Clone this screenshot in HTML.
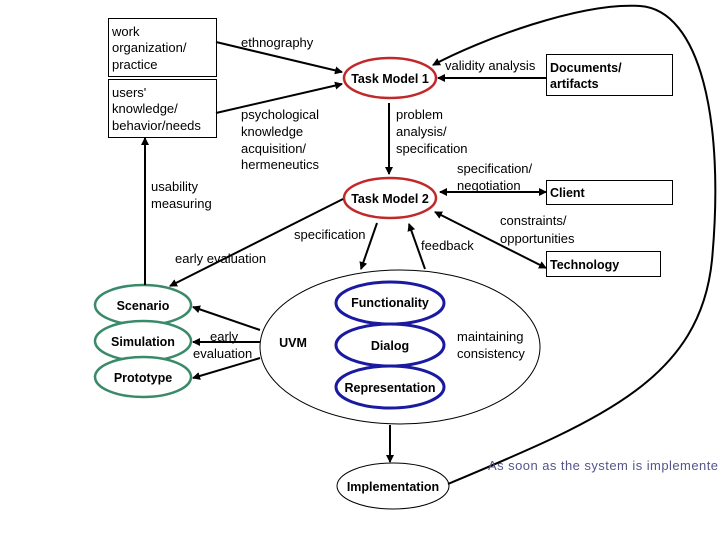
<!DOCTYPE html>
<html><head><meta charset="utf-8"><style>
body{margin:0;background:#fff;}
svg{display:block;font-family:"Liberation Sans",Arial,sans-serif;}
</style></head><body>
<svg width="720" height="540" viewBox="0 0 720 540" xmlns="http://www.w3.org/2000/svg">
<defs>
<marker id="a" markerWidth="8" markerHeight="8" refX="7" refY="4" orient="auto" markerUnits="userSpaceOnUse"><path d="M0,0 L8,4 L0,8 z" fill="#000"/></marker>
<marker id="s" markerWidth="8" markerHeight="8" refX="1" refY="4" orient="auto" markerUnits="userSpaceOnUse"><path d="M8,0 L0,4 L8,8 z" fill="#000"/></marker>
</defs>
<rect width="720" height="540" fill="#fff"/>
<g fill="none" stroke="#000" stroke-width="1">
<rect x="108.5" y="18.5" width="108" height="58"/>
<rect x="108.5" y="79.5" width="108" height="58"/>
<rect x="546.5" y="54.5" width="126" height="41"/>
<rect x="546.5" y="180.5" width="126" height="24"/>
<rect x="546.5" y="251.5" width="114" height="25"/>
<ellipse cx="400" cy="347" rx="140" ry="77"/>
<ellipse cx="393" cy="486" rx="56" ry="23"/>
</g>
<g fill="#fff" stroke="#c0282a" stroke-width="2.5">
<ellipse cx="390" cy="78" rx="46" ry="20"/>
<ellipse cx="390" cy="198" rx="46" ry="20"/>
</g>
<g fill="#fff" stroke="#1a1aa0" stroke-width="3">
<ellipse cx="390" cy="303" rx="54" ry="21"/>
<ellipse cx="390" cy="345" rx="54" ry="21"/>
<ellipse cx="390" cy="387" rx="54" ry="21"/>
</g>
<g fill="#fff" stroke="#3a8a6a" stroke-width="2.5">
<ellipse cx="143" cy="305" rx="48" ry="20"/>
<ellipse cx="143" cy="341" rx="48" ry="20"/>
<ellipse cx="143" cy="377" rx="48" ry="20"/>
</g>
<g stroke="#000" stroke-width="2" fill="none">
<line x1="216" y1="42" x2="342" y2="72" marker-end="url(#a)"/>
<line x1="216" y1="113" x2="342" y2="84" marker-end="url(#a)"/>
<line x1="389" y1="103" x2="389" y2="174" marker-end="url(#a)"/>
<line x1="546" y1="78" x2="438" y2="78" marker-end="url(#a)"/>
<line x1="440" y1="192" x2="546" y2="192" marker-start="url(#s)" marker-end="url(#a)"/>
<line x1="435" y1="212" x2="546" y2="268" marker-start="url(#s)" marker-end="url(#a)"/>
<line x1="377" y1="223" x2="361" y2="269" marker-end="url(#a)"/>
<line x1="425" y1="269" x2="409" y2="224" marker-end="url(#a)"/>
<line x1="343" y1="199" x2="170" y2="286" marker-end="url(#a)"/>
<line x1="145" y1="285" x2="145" y2="138" marker-end="url(#a)"/>
<line x1="260" y1="330" x2="193" y2="307" marker-end="url(#a)"/>
<line x1="260" y1="342" x2="193" y2="342" marker-end="url(#a)"/>
<line x1="260" y1="358" x2="193" y2="378" marker-end="url(#a)"/>
<line x1="390" y1="425" x2="390" y2="462" marker-end="url(#a)"/>
<path d="M448,484 C600,420 700,380 712,260 C725,120 700,10 640,6 C580,2 480,40 433,65" marker-end="url(#a)"/>
</g>
<g font-size="13" fill="#000">
<text x="112" y="36">work</text>
<text x="112" y="52">organization/</text>
<text x="112" y="69">practice</text>
<text x="112" y="97">users'</text>
<text x="112" y="113">knowledge/</text>
<text x="112" y="130">behavior/needs</text>
<text x="241" y="47">ethnography</text>
<text x="241" y="119">psychological</text>
<text x="241" y="136">knowledge</text>
<text x="241" y="153">acquisition/</text>
<text x="241" y="169">hermeneutics</text>
<text x="151" y="191">usability</text>
<text x="151" y="208">measuring</text>
<text x="396" y="119">problem</text>
<text x="396" y="136">analysis/</text>
<text x="396" y="153">specification</text>
<text x="457" y="173">specification/</text>
<text x="457" y="190">negotiation</text>
<text x="445" y="70">validity analysis</text>
<text x="500" y="225">constraints/</text>
<text x="500" y="243">opportunities</text>
<text x="294" y="239">specification</text>
<text x="421" y="250">feedback</text>
<text x="175" y="263">early evaluation</text>
<text x="210" y="341">early</text>
<text x="193" y="358">evaluation</text>
<text x="457" y="341">maintaining</text>
<text x="457" y="358">consistency</text>
<text x="488" y="470" fill="#55558a" textLength="230" lengthAdjust="spacing">As soon as the system is implemente</text>
</g>
<g font-size="12.5" font-weight="bold" fill="#000">
<text x="390" y="83" text-anchor="middle">Task Model 1</text>
<text x="390" y="203" text-anchor="middle">Task Model 2</text>
<text x="550" y="72">Documents/</text>
<text x="550" y="88">artifacts</text>
<text x="550" y="197">Client</text>
<text x="550" y="269">Technology</text>
<text x="390" y="307" text-anchor="middle">Functionality</text>
<text x="390" y="350" text-anchor="middle">Dialog</text>
<text x="390" y="392" text-anchor="middle">Representation</text>
<text x="293" y="347" text-anchor="middle">UVM</text>
<text x="393" y="491" text-anchor="middle">Implementation</text>
<text x="143" y="310" text-anchor="middle">Scenario</text>
<text x="143" y="346" text-anchor="middle">Simulation</text>
<text x="143" y="382" text-anchor="middle">Prototype</text>
</g>
</svg>
</body></html>
